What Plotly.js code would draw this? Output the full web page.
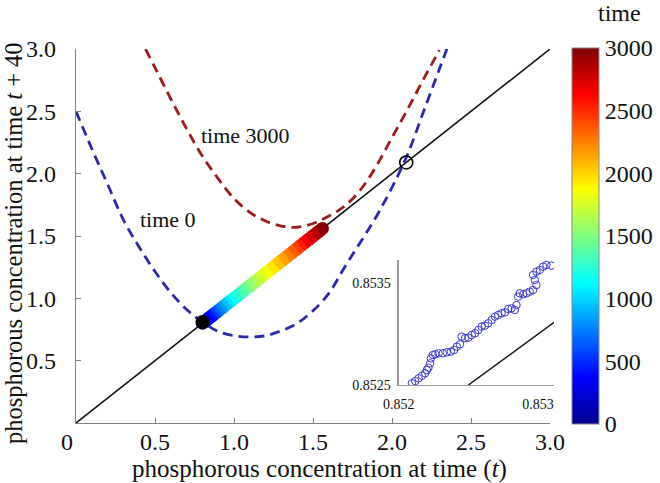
<!DOCTYPE html>
<html>
<head>
<meta charset="utf-8">
<script src="https://cdn.plot.ly/plotly-3.0.1.min.js"></script>
<style>html,body{margin:0;padding:0;background:#fff;}#chart{width:660px;height:483px;}</style>
</head>
<body>
<div id="chart"></div>
<script>
// Map curve at time 0 (blue dashed)
var blueX = [0, 0.1, 0.2, 0.3, 0.4, 0.5, 0.6, 0.7, 0.8, 0.9, 1.0, 1.1, 1.2, 1.3, 1.4, 1.5, 1.6, 1.7, 1.8, 1.9, 2.0, 2.1, 2.2, 2.3, 2.35];
var blueY = [2.50, 2.20, 1.915, 1.63, 1.41, 1.215, 1.046, 0.91, 0.81, 0.735, 0.70, 0.69, 0.70, 0.74, 0.80, 0.90, 1.04, 1.25, 1.45, 1.655, 1.89, 2.16, 2.50, 2.84, 3.01];
// Map curve at time 3000 (red dashed)
var redX = [0.44, 0.5, 0.6, 0.7, 0.8, 0.9, 1.0, 1.1, 1.2, 1.3, 1.4, 1.5, 1.6, 1.7, 1.8, 1.9, 2.0, 2.1, 2.2, 2.3];
var redY = [3.0, 2.85, 2.60, 2.36, 2.14, 1.96, 1.80, 1.69, 1.62, 1.58, 1.57, 1.60, 1.66, 1.74, 1.87, 2.06, 2.29, 2.52, 2.76, 2.99];
// 1:1 line
var diagX = [0, 3];
var diagY = [0, 3];
// Trajectory of the equilibrium over time
var trajTime = [0,100,200,300,400,500,600,700,800,900,1000,1100,1200,1300,1400,1500,1600,1700,1800,1900,2000,2100,2200,2300,2400,2500,2600,2700,2800,2900,3000];
var trajP = [0.800,0.815,0.830,0.845,0.860,0.875,0.890,0.905,0.925,0.945,0.965,0.985,1.010,1.040,1.070,1.100,1.130,1.160,1.195,1.230,1.265,1.300,1.335,1.365,1.395,1.420,1.445,1.475,1.505,1.535,1.560];
// Equilibria
var stableX = [0.80], stableY = [0.81];
var unstableX = [2.09], unstableY = [2.09];
// Inset: zoomed trajectory near start
var insetX = [0.852095,0.852119,0.852143,0.852167,0.852190,0.852202,0.852214,0.852226,0.852231,0.852245,0.852262,0.852286,0.852317,0.852345,0.852374,0.852398,0.852417,0.852440,0.852452,0.852476,0.852500,0.852524,0.852548,0.852571,0.852595,0.852619,0.852643,0.852667,0.852690,0.852714,0.852738,0.852762,0.852786,0.852810,0.852833,0.852845,0.852857,0.852869,0.852893,0.852917,0.852940,0.852964,0.852988,0.852976,0.852964,0.852988,0.853012,0.853036,0.853060,0.853095];
var insetY = [0.852517,0.852539,0.852566,0.852591,0.852615,0.852647,0.852670,0.852712,0.852761,0.852794,0.852801,0.852811,0.852811,0.852820,0.852827,0.852843,0.852876,0.852899,0.852974,0.852958,0.852964,0.852990,0.853007,0.853039,0.853072,0.853082,0.853105,0.853137,0.853170,0.853186,0.853203,0.853212,0.853245,0.853252,0.853235,0.853284,0.853366,0.853399,0.853389,0.853399,0.853415,0.853431,0.853480,0.853529,0.853578,0.853611,0.853627,0.853660,0.853676,0.853670];
var insetLine = [0.8525, 0.85312];
// Tick labels
var mainTicks = [0.5, 1.0, 1.5, 2.0, 2.5, 3.0];
var mainTickText = ['0.5', '1.0', '1.5', '2.0', '2.5', '3.0'];
var insetXTicks = [0.852, 0.853], insetXText = ['0.852', '0.853'];
var insetYTicks = [0.8525, 0.8535], insetYText = ['0.8525', '0.8535'];
var cbTicks = [0, 500, 1000, 1500, 2000, 2500, 3000];

var jet = [[0,[0,0,143]],[0.125,[0,0,255]],[0.375,[0,255,255]],[0.625,[255,255,0]],[0.875,[255,0,0]],[1,[128,0,0]]];
var jetScale = jet.map(function(s){ return [s[0], 'rgb(' + s[1].join(',') + ')']; });
function jetColor(f) {
  for (var i = 1; i < jet.length; i++) {
    if (f <= jet[i][0]) {
      var a = jet[i-1], b = jet[i], u = (f - a[0]) / (b[0] - a[0]);
      var c = a[1].map(function(v, k){ return Math.round(v + (b[1][k] - v) * u); });
      return 'rgb(' + c.join(',') + ')';
    }
  }
  return 'rgb(128,0,0)';
}
var FONT = '"Liberation Serif", "Times New Roman", "DejaVu Serif", serif';

var traces = [
  {x: diagX, y: diagY, mode: 'lines', line: {color: '#111', width: 1.6}, hoverinfo: 'skip'},
  {x: blueX, y: blueY, mode: 'lines', line: {color: '#2a2aa8', width: 2.8, dash: '10px,6px', shape: 'spline'}},
  {x: redX, y: redY, mode: 'lines', line: {color: '#9c1c1c', width: 2.8, dash: '10px,6px', shape: 'spline'}},
  {x: trajP, y: trajP, mode: 'markers',
   marker: {size: 13, color: trajTime, colorscale: jetScale, cmin: 0, cmax: 3000, line: {width: 0},
     showscale: true,
     colorbar: {x: 1.0289, xanchor: 'left', xpad: 0, y: 0.5, yanchor: 'middle', ypad: 0,
       len: 1.005, lenmode: 'fraction', thickness: 27, thicknessmode: 'pixels',
       outlinecolor: '#888', outlinewidth: 1, ticks: '', tickvals: cbTicks,
       tickfont: {family: FONT, size: 24, color: '#111'}}}}
];
// smooth band: consecutive segments of the trajectory coloured by time
for (var i = 0; i < trajP.length - 1; i++) {
  traces.push({x: [trajP[i], trajP[i+1]], y: [trajP[i], trajP[i+1]], mode: 'lines',
    line: {color: jetColor((trajTime[i] + trajTime[i+1]) / 2 / 3000), width: 13}, hoverinfo: 'skip'});
}
traces.push(
  {x: stableX, y: stableY, mode: 'markers', marker: {size: 14, color: '#000'}},
  {x: unstableX, y: unstableY, mode: 'markers', marker: {size: 13, color: 'rgba(0,0,0,0)', line: {color: '#000', width: 1.6}}},
  {x: insetX, y: insetY, xaxis: 'x2', yaxis: 'y2', mode: 'markers',
   marker: {size: 7.5, color: '#3b3bd0', symbol: 'circle-open', line: {color: '#3b3bd0', width: 1}}},
  {x: insetLine, y: insetLine, xaxis: 'x2', yaxis: 'y2', mode: 'lines', line: {color: '#111', width: 1.4}}
);

var axBase = {showgrid: false, zeroline: false, showline: true, linecolor: '#808080', linewidth: 1.2,
  ticks: 'inside', ticklen: 5, tickcolor: '#808080', tickwidth: 1,
  tickfont: {family: FONT, size: 24, color: '#111'}};

var layout = {
  width: 660, height: 483,
  margin: {l: 76, r: 100, t: 49, b: 60},
  paper_bgcolor: '#fff', plot_bgcolor: 'rgba(0,0,0,0)',
  showlegend: false,
  font: {family: FONT, color: '#111'},
  xaxis: Object.assign({}, axBase, {range: [0, 3], domain: [0, 0.98347], tickvals: mainTicks, ticktext: mainTickText, anchor: 'y', ticklabelstandoff: -3}),
  yaxis: Object.assign({}, axBase, {range: [0, 3], domain: [0, 1], tickvals: mainTicks, ticktext: mainTickText, anchor: 'x', ticklabelstandoff: 14}),
  xaxis2: {domain: [0.6694, 0.9917], range: [0.852, 0.853114], anchor: 'y2', showgrid: false, zeroline: false,
    showline: true, linecolor: '#999', linewidth: 1.2, ticks: '', tickvals: insetXTicks, ticktext: insetXText,
    tickfont: {family: FONT, size: 14, color: '#111'}, ticklabelstandoff: 6},
  yaxis2: {domain: [0.1016, 0.4358], range: [0.8525, 0.853725], anchor: 'x2', showgrid: false, zeroline: false,
    showline: true, linecolor: '#999', linewidth: 1.2, ticks: '', tickvals: insetYTicks, ticktext: insetYText,
    tickfont: {family: FONT, size: 14, color: '#111'}, ticklabelstandoff: 4},
  annotations: [
    {xref: 'paper', yref: 'paper', x: -0.0186, y: -0.05, text: '0', showarrow: false, xanchor: 'center', yanchor: 'middle', font: {family: FONT, size: 24, color: '#111'}},
    {xref: 'paper', yref: 'paper', x: 0.505, y: -0.122, text: 'phosphorous concentration at time (<i>t</i>)', showarrow: false, xanchor: 'center', yanchor: 'middle', font: {family: FONT, size: 25, color: '#111'}},
    {xref: 'paper', yref: 'paper', x: -0.13, y: 0.482, text: 'phosphorous concentration at time <i>t</i> + 40', textangle: -90, showarrow: false, xanchor: 'center', yanchor: 'middle', font: {family: FONT, size: 24.5, color: '#111'}},
    {xref: 'paper', yref: 'paper', x: 0.128, y: 0.543, text: 'time 0', showarrow: false, xanchor: 'left', yanchor: 'middle', font: {family: FONT, size: 22, color: '#111'}},
    {xref: 'paper', yref: 'paper', x: 0.2562, y: 0.770, text: 'time 3000', showarrow: false, xanchor: 'left', yanchor: 'middle', font: {family: FONT, size: 22, color: '#111'}},
    {xref: 'paper', yref: 'paper', x: 1.128, y: 1.095, text: 'time', showarrow: false, xanchor: 'center', yanchor: 'middle', font: {family: FONT, size: 24, color: '#111'}}
  ]
};

Plotly.newPlot('chart', traces, layout, {displayModeBar: false, staticPlot: true});
</script>
</body>
</html>
